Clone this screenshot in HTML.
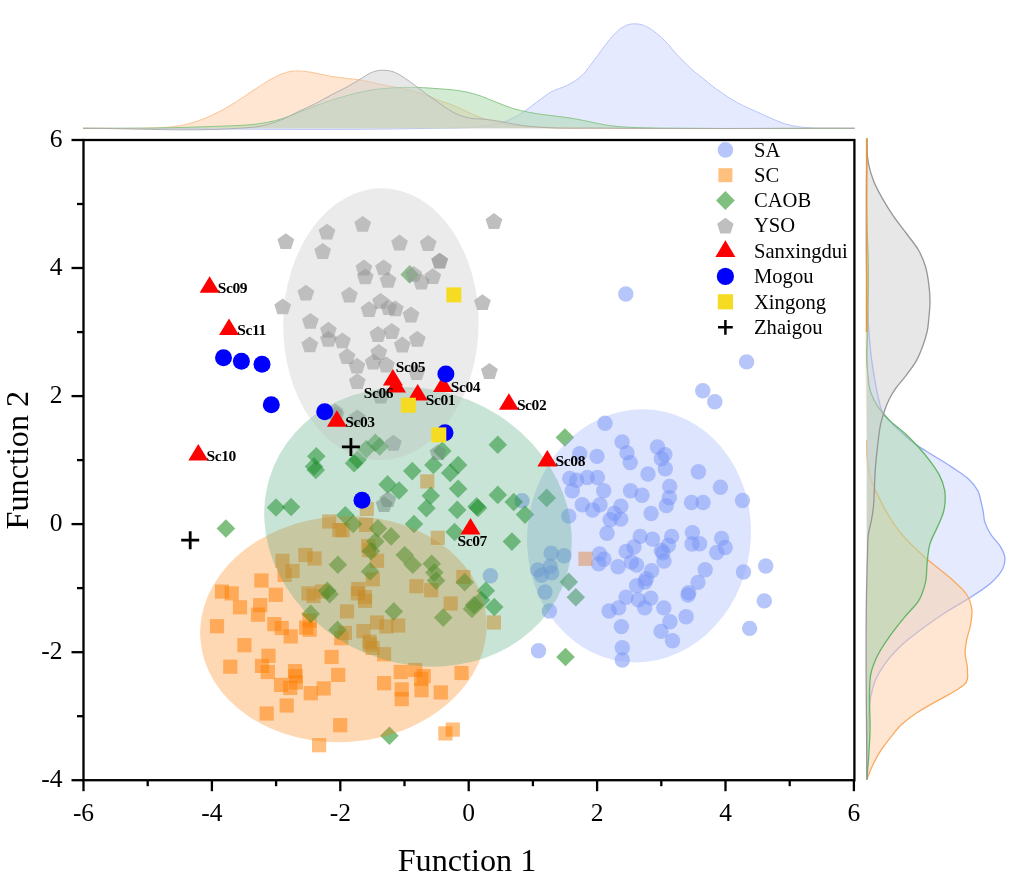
<!DOCTYPE html><html><head><meta charset="utf-8"><style>html,body{margin:0;padding:0;background:#fff;}svg{display:block;will-change:transform;}</style></head><body><svg width="1021" height="881" viewBox="0 0 1021 881">
<rect width="1021" height="881" fill="#fff"/>
<path d="M83.0,128.3 C202.0,128.3 321.0,130.8 440.0,128.2 C450.0,128.0 460.0,128.2 470.0,127.5 C475.0,127.1 480.0,126.7 485.0,126.0 C489.0,125.4 493.0,124.8 497.0,123.8 C499.6,123.2 502.3,122.6 504.9,121.6 C507.5,120.7 510.1,119.4 512.7,118.1 C516.4,116.3 520.0,114.3 523.7,111.9 C527.9,109.2 532.0,105.5 536.2,102.5 C541.4,98.7 546.7,94.4 551.9,91.5 C557.1,88.6 562.3,88.1 567.5,85.2 C572.7,82.3 578.0,79.8 583.2,74.3 C586.9,70.5 590.5,64.9 594.2,60.1 C595.4,58.5 596.6,57.0 597.8,55.4 C600.4,51.9 603.1,47.9 605.7,44.5 C608.3,41.1 610.9,37.9 613.5,35.1 C616.1,32.4 618.7,29.8 621.3,28.0 C623.9,26.2 626.6,25.1 629.2,24.4 C631.3,23.9 633.3,23.8 635.4,23.8 C638.0,23.9 640.7,24.3 643.3,25.2 C646.4,26.3 649.6,28.3 652.7,30.4 C655.3,32.2 657.9,34.3 660.5,36.6 C663.1,39.0 665.8,41.6 668.4,44.5 C671.0,47.4 673.6,51.0 676.2,53.9 C678.8,56.8 681.4,59.1 684.0,61.7 C686.6,64.3 689.3,67.2 691.9,69.6 C694.5,71.9 697.1,73.7 699.7,75.8 C702.3,77.9 704.9,80.0 707.5,82.1 C710.1,84.2 712.8,86.4 715.4,88.4 C718.0,90.3 720.6,92.0 723.2,93.8 C725.8,95.6 728.4,97.4 731.0,99.0 C735.2,101.6 739.5,103.8 743.7,105.9 C748.3,108.2 752.8,110.0 757.4,112.1 C762.0,114.2 766.5,116.3 771.1,118.3 C775.7,120.2 780.2,122.4 784.8,123.8 C789.4,125.2 794.0,126.1 798.6,126.8 C803.2,127.5 807.7,127.7 812.3,127.9 C818.2,128.2 824.1,128.1 830.0,128.2 C838.2,128.3 846.3,128.3 854.5,128.3 L854.5,128.3 L83,128.3 Z" fill="rgba(203,213,253,0.5)" stroke="none"/>
<path d="M83.0,128.3 C202.0,128.3 321.0,130.8 440.0,128.2 C450.0,128.0 460.0,128.2 470.0,127.5 C475.0,127.1 480.0,126.7 485.0,126.0 C489.0,125.4 493.0,124.8 497.0,123.8 C499.6,123.2 502.3,122.6 504.9,121.6 C507.5,120.7 510.1,119.4 512.7,118.1 C516.4,116.3 520.0,114.3 523.7,111.9 C527.9,109.2 532.0,105.5 536.2,102.5 C541.4,98.7 546.7,94.4 551.9,91.5 C557.1,88.6 562.3,88.1 567.5,85.2 C572.7,82.3 578.0,79.8 583.2,74.3 C586.9,70.5 590.5,64.9 594.2,60.1 C595.4,58.5 596.6,57.0 597.8,55.4 C600.4,51.9 603.1,47.9 605.7,44.5 C608.3,41.1 610.9,37.9 613.5,35.1 C616.1,32.4 618.7,29.8 621.3,28.0 C623.9,26.2 626.6,25.1 629.2,24.4 C631.3,23.9 633.3,23.8 635.4,23.8 C638.0,23.9 640.7,24.3 643.3,25.2 C646.4,26.3 649.6,28.3 652.7,30.4 C655.3,32.2 657.9,34.3 660.5,36.6 C663.1,39.0 665.8,41.6 668.4,44.5 C671.0,47.4 673.6,51.0 676.2,53.9 C678.8,56.8 681.4,59.1 684.0,61.7 C686.6,64.3 689.3,67.2 691.9,69.6 C694.5,71.9 697.1,73.7 699.7,75.8 C702.3,77.9 704.9,80.0 707.5,82.1 C710.1,84.2 712.8,86.4 715.4,88.4 C718.0,90.3 720.6,92.0 723.2,93.8 C725.8,95.6 728.4,97.4 731.0,99.0 C735.2,101.6 739.5,103.8 743.7,105.9 C748.3,108.2 752.8,110.0 757.4,112.1 C762.0,114.2 766.5,116.3 771.1,118.3 C775.7,120.2 780.2,122.4 784.8,123.8 C789.4,125.2 794.0,126.1 798.6,126.8 C803.2,127.5 807.7,127.7 812.3,127.9 C818.2,128.2 824.1,128.1 830.0,128.2 C838.2,128.3 846.3,128.3 854.5,128.3" fill="none" stroke="rgb(178,192,249)" stroke-width="0.9"/>
<path d="M83.0,128.3 C105.3,128.2 127.7,128.9 150.0,128.1 C155.2,127.9 160.5,127.9 165.7,127.4 C170.9,127.0 176.1,126.4 181.3,125.4 C186.5,124.4 191.8,123.0 197.0,121.2 C202.2,119.5 207.5,117.3 212.7,114.9 C217.9,112.5 223.2,109.6 228.4,106.6 C233.6,103.6 238.8,100.1 244.0,96.7 C249.2,93.3 254.5,89.5 259.7,86.2 C264.9,82.9 270.2,79.3 275.4,76.8 C279.0,75.0 282.7,73.4 286.3,72.4 C290.0,71.4 293.6,71.0 297.3,70.9 C301.5,70.8 305.8,71.5 310.0,72.1 C317.1,73.1 324.2,75.3 331.3,76.4 C336.5,77.2 341.8,77.7 347.0,78.4 C352.2,79.1 357.5,79.5 362.7,80.4 C367.9,81.3 373.2,82.8 378.4,83.9 C383.6,85.0 388.8,86.0 394.0,87.0 C399.2,88.0 404.5,88.8 409.7,90.1 C414.9,91.4 420.2,93.1 425.4,94.9 C430.6,96.7 435.8,99.2 441.0,101.1 C444.7,102.4 448.3,103.4 452.0,104.8 C456.6,106.6 461.1,109.1 465.7,111.1 C470.9,113.4 476.1,115.9 481.3,117.8 C486.5,119.7 491.8,121.3 497.0,122.5 C502.2,123.7 507.5,124.5 512.7,125.2 C517.9,125.9 523.2,126.4 528.4,126.8 C533.9,127.2 539.5,127.4 545.0,127.6 C563.3,128.3 581.7,128.0 600.0,128.2 C684.8,129.0 769.7,128.3 854.5,128.3 L854.5,128.3 L83,128.3 Z" fill="rgba(253,205,165,0.5)" stroke="none"/>
<path d="M83.0,128.3 C105.3,128.2 127.7,128.9 150.0,128.1 C155.2,127.9 160.5,127.9 165.7,127.4 C170.9,127.0 176.1,126.4 181.3,125.4 C186.5,124.4 191.8,123.0 197.0,121.2 C202.2,119.5 207.5,117.3 212.7,114.9 C217.9,112.5 223.2,109.6 228.4,106.6 C233.6,103.6 238.8,100.1 244.0,96.7 C249.2,93.3 254.5,89.5 259.7,86.2 C264.9,82.9 270.2,79.3 275.4,76.8 C279.0,75.0 282.7,73.4 286.3,72.4 C290.0,71.4 293.6,71.0 297.3,70.9 C301.5,70.8 305.8,71.5 310.0,72.1 C317.1,73.1 324.2,75.3 331.3,76.4 C336.5,77.2 341.8,77.7 347.0,78.4 C352.2,79.1 357.5,79.5 362.7,80.4 C367.9,81.3 373.2,82.8 378.4,83.9 C383.6,85.0 388.8,86.0 394.0,87.0 C399.2,88.0 404.5,88.8 409.7,90.1 C414.9,91.4 420.2,93.1 425.4,94.9 C430.6,96.7 435.8,99.2 441.0,101.1 C444.7,102.4 448.3,103.4 452.0,104.8 C456.6,106.6 461.1,109.1 465.7,111.1 C470.9,113.4 476.1,115.9 481.3,117.8 C486.5,119.7 491.8,121.3 497.0,122.5 C502.2,123.7 507.5,124.5 512.7,125.2 C517.9,125.9 523.2,126.4 528.4,126.8 C533.9,127.2 539.5,127.4 545.0,127.6 C563.3,128.3 581.7,128.0 600.0,128.2 C684.8,129.0 769.7,128.3 854.5,128.3" fill="none" stroke="rgb(250,190,135)" stroke-width="0.9"/>
<path d="M83.0,128.3 C105.3,128.2 127.7,128.4 150.0,128.1 C165.7,127.9 181.3,127.5 197.0,127.0 C207.5,126.7 217.9,126.4 228.4,125.9 C236.2,125.5 244.1,125.5 251.9,124.6 C257.1,124.0 262.3,123.3 267.5,122.3 C272.7,121.3 278.0,120.1 283.2,118.4 C288.4,116.8 293.7,114.4 298.9,112.4 C304.5,110.2 310.1,107.9 315.7,105.8 C320.9,103.9 326.1,102.0 331.3,100.3 C336.5,98.6 341.8,97.0 347.0,95.6 C352.2,94.2 357.5,92.8 362.7,91.7 C367.9,90.6 373.2,89.8 378.4,89.1 C383.6,88.5 388.8,88.1 394.0,87.8 C399.2,87.5 404.5,87.3 409.7,87.3 C414.9,87.3 420.2,87.5 425.4,87.8 C430.6,88.1 435.8,88.5 441.0,88.9 C444.0,89.1 447.0,89.3 450.0,89.6 C455.2,90.1 460.5,90.7 465.7,91.8 C470.9,92.9 476.1,94.4 481.3,96.2 C486.5,98.0 491.8,100.5 497.0,102.5 C502.2,104.5 507.5,106.8 512.7,108.4 C517.9,110.0 523.2,111.1 528.4,112.2 C533.6,113.2 538.8,114.0 544.0,114.7 C549.2,115.4 554.5,115.9 559.7,116.6 C564.9,117.3 570.2,118.0 575.4,118.9 C580.6,119.8 585.8,121.0 591.0,122.0 C596.2,123.1 601.5,124.4 606.7,125.2 C611.6,126.0 616.4,126.4 621.3,126.8 C627.5,127.3 633.8,127.5 640.0,127.7 C653.3,128.2 666.7,128.1 680.0,128.2 C738.2,128.8 796.3,128.3 854.5,128.3 L854.5,128.3 L83,128.3 Z" fill="rgba(167,213,167,0.5)" stroke="none"/>
<path d="M83.0,128.3 C105.3,128.2 127.7,128.4 150.0,128.1 C165.7,127.9 181.3,127.5 197.0,127.0 C207.5,126.7 217.9,126.4 228.4,125.9 C236.2,125.5 244.1,125.5 251.9,124.6 C257.1,124.0 262.3,123.3 267.5,122.3 C272.7,121.3 278.0,120.1 283.2,118.4 C288.4,116.8 293.7,114.4 298.9,112.4 C304.5,110.2 310.1,107.9 315.7,105.8 C320.9,103.9 326.1,102.0 331.3,100.3 C336.5,98.6 341.8,97.0 347.0,95.6 C352.2,94.2 357.5,92.8 362.7,91.7 C367.9,90.6 373.2,89.8 378.4,89.1 C383.6,88.5 388.8,88.1 394.0,87.8 C399.2,87.5 404.5,87.3 409.7,87.3 C414.9,87.3 420.2,87.5 425.4,87.8 C430.6,88.1 435.8,88.5 441.0,88.9 C444.0,89.1 447.0,89.3 450.0,89.6 C455.2,90.1 460.5,90.7 465.7,91.8 C470.9,92.9 476.1,94.4 481.3,96.2 C486.5,98.0 491.8,100.5 497.0,102.5 C502.2,104.5 507.5,106.8 512.7,108.4 C517.9,110.0 523.2,111.1 528.4,112.2 C533.6,113.2 538.8,114.0 544.0,114.7 C549.2,115.4 554.5,115.9 559.7,116.6 C564.9,117.3 570.2,118.0 575.4,118.9 C580.6,119.8 585.8,121.0 591.0,122.0 C596.2,123.1 601.5,124.4 606.7,125.2 C611.6,126.0 616.4,126.4 621.3,126.8 C627.5,127.3 633.8,127.5 640.0,127.7 C653.3,128.2 666.7,128.1 680.0,128.2 C738.2,128.8 796.3,128.3 854.5,128.3" fill="none" stroke="rgb(130,195,130)" stroke-width="0.9"/>
<path d="M83.0,128.3 C135.3,128.3 187.7,131.9 240.0,128.2 C244.0,127.9 247.9,127.8 251.9,127.3 C257.1,126.7 262.3,126.0 267.5,124.6 C272.7,123.2 278.0,121.3 283.2,119.1 C288.4,116.9 293.7,113.8 298.9,111.3 C304.5,108.6 310.1,106.4 315.7,103.5 C320.9,100.9 326.1,97.6 331.3,94.9 C336.5,92.1 341.8,89.9 347.0,87.0 C352.2,84.1 357.5,80.7 362.7,77.6 C365.3,76.0 367.9,74.1 370.5,72.9 C374.7,71.0 378.9,70.2 383.1,70.2 C386.7,70.2 390.4,70.8 394.0,72.1 C399.2,73.9 404.5,78.0 409.7,81.5 C414.9,85.0 420.2,89.5 425.4,93.3 C430.6,97.1 435.8,100.7 441.0,104.3 C444.0,106.4 447.0,108.7 450.0,110.5 C452.7,112.1 455.3,113.5 458.0,114.6 C460.7,115.7 463.3,116.6 466.0,117.3 C468.3,117.9 470.7,118.3 473.0,118.6 C476.5,119.1 480.0,118.8 483.5,119.1 C489.7,119.6 495.8,120.8 502.0,121.8 C508.9,122.9 515.7,124.7 522.6,125.6 C529.4,126.5 536.2,126.9 543.0,127.4 C562.0,128.7 581.0,127.9 600.0,128.1 C684.8,129.0 769.7,128.2 854.5,128.3 L854.5,128.3 L83,128.3 Z" fill="rgba(207,207,207,0.5)" stroke="none"/>
<path d="M83.0,128.3 C135.3,128.3 187.7,131.9 240.0,128.2 C244.0,127.9 247.9,127.8 251.9,127.3 C257.1,126.7 262.3,126.0 267.5,124.6 C272.7,123.2 278.0,121.3 283.2,119.1 C288.4,116.9 293.7,113.8 298.9,111.3 C304.5,108.6 310.1,106.4 315.7,103.5 C320.9,100.9 326.1,97.6 331.3,94.9 C336.5,92.1 341.8,89.9 347.0,87.0 C352.2,84.1 357.5,80.7 362.7,77.6 C365.3,76.0 367.9,74.1 370.5,72.9 C374.7,71.0 378.9,70.2 383.1,70.2 C386.7,70.2 390.4,70.8 394.0,72.1 C399.2,73.9 404.5,78.0 409.7,81.5 C414.9,85.0 420.2,89.5 425.4,93.3 C430.6,97.1 435.8,100.7 441.0,104.3 C444.0,106.4 447.0,108.7 450.0,110.5 C452.7,112.1 455.3,113.5 458.0,114.6 C460.7,115.7 463.3,116.6 466.0,117.3 C468.3,117.9 470.7,118.3 473.0,118.6 C476.5,119.1 480.0,118.8 483.5,119.1 C489.7,119.6 495.8,120.8 502.0,121.8 C508.9,122.9 515.7,124.7 522.6,125.6 C529.4,126.5 536.2,126.9 543.0,127.4 C562.0,128.7 581.0,127.9 600.0,128.1 C684.8,129.0 769.7,128.2 854.5,128.3" fill="none" stroke="rgb(172,172,172)" stroke-width="0.9"/>
<path d="M866.8,138.6 C866.8,185.7 865.5,232.9 866.8,280.0 C867.0,288.3 867.3,296.7 867.6,305.0 C867.9,312.3 868.1,319.5 868.6,326.8 C869.2,335.9 869.8,345.0 870.9,354.1 C871.8,361.7 873.0,369.2 874.3,376.8 C875.3,382.8 876.2,388.9 877.7,394.9 C879.4,401.7 879.7,408.6 884.5,415.4 C888.3,420.7 894.6,426.0 900.4,431.3 C905.3,435.8 909.9,440.4 916.3,444.9 C921.6,448.7 928.5,452.4 934.5,456.2 C940.6,460.0 946.9,463.8 952.6,467.6 C958.3,471.4 964.3,475.2 968.5,479.0 C972.6,482.8 975.5,486.5 977.6,490.3 C979.7,494.1 980.0,497.9 981.0,501.7 C981.9,505.1 982.7,508.6 983.3,512.0 C983.9,515.1 983.7,518.3 984.6,521.4 C985.9,525.9 988.2,530.5 991.2,535.0 C993.7,538.8 998.0,542.5 1000.3,546.3 C1002.6,550.1 1004.5,553.9 1004.9,557.7 C1005.3,561.5 1004.4,565.2 1002.6,569.0 C1000.4,573.6 996.3,578.1 991.2,582.7 C985.3,588.0 976.8,593.3 968.5,598.6 C961.4,603.1 952.9,607.7 945.8,612.2 C937.5,617.5 930.2,622.8 923.1,628.1 C915.0,634.1 906.8,640.2 900.4,646.2 C893.9,652.3 888.8,658.3 884.5,664.4 C880.7,669.7 877.7,675.0 875.4,680.3 C873.1,685.6 872.0,690.9 870.9,696.2 C870.0,700.8 869.6,705.4 869.1,710.0 C868.0,720.0 867.9,730.0 867.5,740.0 C867.0,753.2 867.0,766.4 866.8,779.6 L866.8,779.6 L866.8,138.6 Z" fill="rgba(203,213,253,0.5)" stroke="none"/>
<path d="M866.8,138.6 C866.8,185.7 865.5,232.9 866.8,280.0 C867.0,288.3 867.3,296.7 867.6,305.0 C867.9,312.3 868.1,319.5 868.6,326.8 C869.2,335.9 869.8,345.0 870.9,354.1 C871.8,361.7 873.0,369.2 874.3,376.8 C875.3,382.8 876.2,388.9 877.7,394.9 C879.4,401.7 879.7,408.6 884.5,415.4 C888.3,420.7 894.6,426.0 900.4,431.3 C905.3,435.8 909.9,440.4 916.3,444.9 C921.6,448.7 928.5,452.4 934.5,456.2 C940.6,460.0 946.9,463.8 952.6,467.6 C958.3,471.4 964.3,475.2 968.5,479.0 C972.6,482.8 975.5,486.5 977.6,490.3 C979.7,494.1 980.0,497.9 981.0,501.7 C981.9,505.1 982.7,508.6 983.3,512.0 C983.9,515.1 983.7,518.3 984.6,521.4 C985.9,525.9 988.2,530.5 991.2,535.0 C993.7,538.8 998.0,542.5 1000.3,546.3 C1002.6,550.1 1004.5,553.9 1004.9,557.7 C1005.3,561.5 1004.4,565.2 1002.6,569.0 C1000.4,573.6 996.3,578.1 991.2,582.7 C985.3,588.0 976.8,593.3 968.5,598.6 C961.4,603.1 952.9,607.7 945.8,612.2 C937.5,617.5 930.2,622.8 923.1,628.1 C915.0,634.1 906.8,640.2 900.4,646.2 C893.9,652.3 888.8,658.3 884.5,664.4 C880.7,669.7 877.7,675.0 875.4,680.3 C873.1,685.6 872.0,690.9 870.9,696.2 C870.0,700.8 869.6,705.4 869.1,710.0 C868.0,720.0 867.9,730.0 867.5,740.0 C867.0,753.2 867.0,766.4 866.8,779.6" fill="none" stroke="rgb(150,170,250)" stroke-width="1.3"/>
<path d="M866.8,138.6 C866.8,239.1 863.6,339.5 866.8,440.0 C867.0,446.9 866.7,453.9 867.5,460.8 C868.2,466.9 869.0,472.9 870.9,479.0 C872.6,484.3 875.2,489.5 877.7,494.8 C879.8,499.4 882.0,503.9 884.5,508.5 C886.6,512.3 888.8,516.2 891.3,520.0 C894.1,524.2 897.0,528.5 900.4,532.7 C907.2,541.0 916.0,549.4 925.4,557.7 C933.0,564.5 942.9,571.3 950.4,578.1 C956.2,583.4 962.7,588.7 966.3,594.0 C969.9,599.3 971.3,604.6 971.9,609.9 C972.4,614.4 971.5,619.0 970.8,623.5 C969.9,629.6 967.3,635.6 966.3,641.7 C965.7,645.5 965.1,649.3 965.1,653.1 C965.1,658.7 967.8,664.4 967.5,670.0 C967.2,674.9 969.4,679.9 964.0,684.8 C961.9,686.7 958.8,688.6 955.8,690.5 C950.1,694.1 942.7,697.8 936.3,701.4 C929.6,705.2 922.5,709.0 916.8,712.8 C911.1,716.6 906.2,720.3 902.1,724.1 C897.3,728.4 894.3,732.8 890.8,737.1 C887.3,741.5 883.9,745.8 881.0,750.2 C877.8,755.1 875.3,759.9 872.9,764.8 C870.5,769.7 868.8,774.7 866.8,779.6 L866.8,779.6 L866.8,138.6 Z" fill="rgba(253,205,165,0.5)" stroke="none"/>
<path d="M866.8,440.0 C867.0,446.9 866.7,453.9 867.5,460.8 C868.2,466.9 869.0,472.9 870.9,479.0 C872.6,484.3 875.2,489.5 877.7,494.8 C879.8,499.4 882.0,503.9 884.5,508.5 C886.6,512.3 888.8,516.2 891.3,520.0 C894.1,524.2 897.0,528.5 900.4,532.7 C907.2,541.0 916.0,549.4 925.4,557.7 C933.0,564.5 942.9,571.3 950.4,578.1 C956.2,583.4 962.7,588.7 966.3,594.0 C969.9,599.3 971.3,604.6 971.9,609.9 C972.4,614.4 971.5,619.0 970.8,623.5 C969.9,629.6 967.3,635.6 966.3,641.7 C965.7,645.5 965.1,649.3 965.1,653.1 C965.1,658.7 967.8,664.4 967.5,670.0 C967.2,674.9 969.4,679.9 964.0,684.8 C961.9,686.7 958.8,688.6 955.8,690.5 C950.1,694.1 942.7,697.8 936.3,701.4 C929.6,705.2 922.5,709.0 916.8,712.8 C911.1,716.6 906.2,720.3 902.1,724.1 C897.3,728.4 894.3,732.8 890.8,737.1 C887.3,741.5 883.9,745.8 881.0,750.2 C877.8,755.1 875.3,759.9 872.9,764.8 C870.5,769.7 868.8,774.7 866.8,779.6" fill="none" stroke="rgb(250,170,95)" stroke-width="1.3"/>
<path d="M866.8,138.6 C866.8,165.7 866.2,192.9 866.8,220.0 C867.1,235.0 868.1,250.0 868.3,265.0 C868.4,273.3 868.4,281.7 868.3,290.0 C868.2,303.3 867.6,316.7 867.5,330.0 C867.4,343.3 866.2,356.7 867.5,370.0 C868.2,377.6 868.1,385.1 870.9,392.7 C872.6,397.2 874.7,401.8 877.7,406.3 C880.7,410.8 884.6,415.4 889.1,419.9 C893.6,424.4 900.1,429.0 905.0,433.5 C909.9,438.1 914.4,442.6 918.6,447.2 C922.7,451.7 926.5,456.3 929.9,460.8 C933.3,465.3 936.6,469.9 939.0,474.4 C941.8,479.7 943.8,485.0 944.7,490.3 C945.3,494.1 945.3,497.9 945.1,501.7 C944.9,505.1 944.4,508.6 943.5,512.0 C942.5,515.9 940.6,519.7 939.0,523.6 C936.2,530.4 931.9,537.3 929.9,544.1 C928.2,550.1 927.9,556.2 927.2,562.2 C926.4,569.0 927.0,575.9 925.4,582.7 C923.9,588.7 922.4,594.8 918.6,600.8 C915.3,606.1 909.3,611.4 905.0,616.7 C899.4,623.5 893.9,630.4 889.1,637.2 C884.9,643.2 880.7,649.3 877.7,655.3 C874.7,661.4 872.2,667.4 870.9,673.5 C869.7,679.0 869.9,684.5 869.6,690.0 C868.9,703.5 870.4,717.1 870.0,730.6 C869.8,738.7 869.3,746.9 868.8,755.0 C868.3,763.2 867.5,771.4 866.8,779.6 L866.8,779.6 L866.8,138.6 Z" fill="rgba(167,213,167,0.5)" stroke="none"/>
<path d="M866.8,138.6 C866.8,165.7 866.2,192.9 866.8,220.0 C867.1,235.0 868.1,250.0 868.3,265.0 C868.4,273.3 868.4,281.7 868.3,290.0 C868.2,303.3 867.6,316.7 867.5,330.0 C867.4,343.3 866.2,356.7 867.5,370.0 C868.2,377.6 868.1,385.1 870.9,392.7 C872.6,397.2 874.7,401.8 877.7,406.3 C880.7,410.8 884.6,415.4 889.1,419.9 C893.6,424.4 900.1,429.0 905.0,433.5 C909.9,438.1 914.4,442.6 918.6,447.2 C922.7,451.7 926.5,456.3 929.9,460.8 C933.3,465.3 936.6,469.9 939.0,474.4 C941.8,479.7 943.8,485.0 944.7,490.3 C945.3,494.1 945.3,497.9 945.1,501.7 C944.9,505.1 944.4,508.6 943.5,512.0 C942.5,515.9 940.6,519.7 939.0,523.6 C936.2,530.4 931.9,537.3 929.9,544.1 C928.2,550.1 927.9,556.2 927.2,562.2 C926.4,569.0 927.0,575.9 925.4,582.7 C923.9,588.7 922.4,594.8 918.6,600.8 C915.3,606.1 909.3,611.4 905.0,616.7 C899.4,623.5 893.9,630.4 889.1,637.2 C884.9,643.2 880.7,649.3 877.7,655.3 C874.7,661.4 872.2,667.4 870.9,673.5 C869.7,679.0 869.9,684.5 869.6,690.0 C868.9,703.5 870.4,717.1 870.0,730.6 C869.8,738.7 869.3,746.9 868.8,755.0 C868.3,763.2 867.5,771.4 866.8,779.6" fill="none" stroke="rgb(100,180,100)" stroke-width="1.3"/>
<path d="M866.8,138.6 C866.8,141.7 866.7,144.9 866.8,148.0 C867.0,153.4 867.5,158.7 868.6,164.1 C869.7,169.4 871.2,174.7 873.2,180.0 C875.5,186.0 878.8,192.1 882.2,198.1 C885.6,204.2 889.4,210.2 893.6,216.3 C897.8,222.4 902.8,228.4 907.2,234.5 C911.1,239.8 915.6,245.0 918.6,250.3 C921.6,255.6 923.7,260.9 925.4,266.2 C927.3,272.3 928.0,278.3 928.8,284.4 C929.6,290.5 930.1,296.5 930.0,302.6 C929.9,307.9 929.3,313.2 928.8,318.5 C928.4,322.8 928.1,327.1 927.2,331.4 C926.2,335.9 924.7,340.5 923.1,345.0 C921.2,350.3 919.3,355.6 916.3,360.9 C913.3,366.2 909.1,371.5 905.0,376.8 C902.1,380.6 898.5,384.3 895.9,388.1 C893.2,391.9 891.0,395.7 889.1,399.5 C887.2,403.3 885.8,407.0 884.5,410.8 C883.2,414.6 882.0,418.4 881.1,422.2 C879.2,429.8 878.7,437.3 877.7,444.9 C876.8,452.5 876.0,460.0 875.4,467.6 C874.8,475.2 874.7,482.7 874.3,490.3 C874.0,495.5 874.0,500.8 873.5,506.0 C873.0,510.7 872.4,515.3 871.5,520.0 C870.7,524.3 869.3,528.7 868.6,533.0 C867.4,540.3 867.8,547.7 867.5,555.0 C867.2,563.3 867.0,571.7 866.8,580.0 C865.1,646.5 866.8,713.1 866.8,779.6 L866.8,779.6 L866.8,138.6 Z" fill="rgba(207,207,207,0.5)" stroke="none"/>
<path d="M866.8,138.6 C866.8,141.7 866.7,144.9 866.8,148.0 C867.0,153.4 867.5,158.7 868.6,164.1 C869.7,169.4 871.2,174.7 873.2,180.0 C875.5,186.0 878.8,192.1 882.2,198.1 C885.6,204.2 889.4,210.2 893.6,216.3 C897.8,222.4 902.8,228.4 907.2,234.5 C911.1,239.8 915.6,245.0 918.6,250.3 C921.6,255.6 923.7,260.9 925.4,266.2 C927.3,272.3 928.0,278.3 928.8,284.4 C929.6,290.5 930.1,296.5 930.0,302.6 C929.9,307.9 929.3,313.2 928.8,318.5 C928.4,322.8 928.1,327.1 927.2,331.4 C926.2,335.9 924.7,340.5 923.1,345.0 C921.2,350.3 919.3,355.6 916.3,360.9 C913.3,366.2 909.1,371.5 905.0,376.8 C902.1,380.6 898.5,384.3 895.9,388.1 C893.2,391.9 891.0,395.7 889.1,399.5 C887.2,403.3 885.8,407.0 884.5,410.8 C883.2,414.6 882.0,418.4 881.1,422.2 C879.2,429.8 878.7,437.3 877.7,444.9 C876.8,452.5 876.0,460.0 875.4,467.6 C874.8,475.2 874.7,482.7 874.3,490.3 C874.0,495.5 874.0,500.8 873.5,506.0 C873.0,510.7 872.4,515.3 871.5,520.0 C870.7,524.3 869.3,528.7 868.6,533.0 C867.4,540.3 867.8,547.7 867.5,555.0 C867.2,563.3 867.0,571.7 866.8,580.0 C865.1,646.5 866.8,713.1 866.8,779.6" fill="none" stroke="rgb(150,150,150)" stroke-width="1.3"/>
<line x1="866.5999999999999" y1="138.4" x2="866.5999999999999" y2="332" stroke="rgb(238,150,50)" stroke-width="1.5"/>
<circle cx="490.4" cy="575.8" r="7.7" fill="rgba(112,142,245,0.5)"/>
<circle cx="702.8" cy="390.8" r="7.7" fill="rgba(112,142,245,0.5)"/>
<circle cx="714.8" cy="401.7" r="7.7" fill="rgba(112,142,245,0.5)"/>
<circle cx="605.0" cy="423.2" r="7.7" fill="rgba(112,142,245,0.5)"/>
<circle cx="622.1" cy="441.9" r="7.7" fill="rgba(112,142,245,0.5)"/>
<circle cx="627.0" cy="452.9" r="7.7" fill="rgba(112,142,245,0.5)"/>
<circle cx="630.2" cy="462.6" r="7.7" fill="rgba(112,142,245,0.5)"/>
<circle cx="657.5" cy="447.0" r="7.7" fill="rgba(112,142,245,0.5)"/>
<circle cx="664.9" cy="454.6" r="7.7" fill="rgba(112,142,245,0.5)"/>
<circle cx="661.4" cy="458.7" r="7.7" fill="rgba(112,142,245,0.5)"/>
<circle cx="665.3" cy="468.7" r="7.7" fill="rgba(112,142,245,0.5)"/>
<circle cx="579.7" cy="453.7" r="7.7" fill="rgba(112,142,245,0.5)"/>
<circle cx="597.0" cy="456.4" r="7.7" fill="rgba(112,142,245,0.5)"/>
<circle cx="648.0" cy="474.0" r="7.7" fill="rgba(112,142,245,0.5)"/>
<circle cx="698.4" cy="471.7" r="7.7" fill="rgba(112,142,245,0.5)"/>
<circle cx="569.7" cy="478.4" r="7.7" fill="rgba(112,142,245,0.5)"/>
<circle cx="576.7" cy="480.2" r="7.7" fill="rgba(112,142,245,0.5)"/>
<circle cx="587.3" cy="477.5" r="7.7" fill="rgba(112,142,245,0.5)"/>
<circle cx="597.4" cy="477.5" r="7.7" fill="rgba(112,142,245,0.5)"/>
<circle cx="572.3" cy="490.8" r="7.7" fill="rgba(112,142,245,0.5)"/>
<circle cx="603.7" cy="490.8" r="7.7" fill="rgba(112,142,245,0.5)"/>
<circle cx="630.5" cy="490.8" r="7.7" fill="rgba(112,142,245,0.5)"/>
<circle cx="642.0" cy="495.2" r="7.7" fill="rgba(112,142,245,0.5)"/>
<circle cx="669.7" cy="486.4" r="7.7" fill="rgba(112,142,245,0.5)"/>
<circle cx="669.3" cy="497.8" r="7.7" fill="rgba(112,142,245,0.5)"/>
<circle cx="720.4" cy="487.2" r="7.7" fill="rgba(112,142,245,0.5)"/>
<circle cx="691.5" cy="502.5" r="7.7" fill="rgba(112,142,245,0.5)"/>
<circle cx="703.1" cy="502.5" r="7.7" fill="rgba(112,142,245,0.5)"/>
<circle cx="742.5" cy="500.5" r="7.7" fill="rgba(112,142,245,0.5)"/>
<circle cx="666.3" cy="505.6" r="7.7" fill="rgba(112,142,245,0.5)"/>
<circle cx="522.0" cy="500.8" r="7.7" fill="rgba(112,142,245,0.5)"/>
<circle cx="568.8" cy="516.1" r="7.7" fill="rgba(112,142,245,0.5)"/>
<circle cx="582.3" cy="504.7" r="7.7" fill="rgba(112,142,245,0.5)"/>
<circle cx="592.6" cy="510.0" r="7.7" fill="rgba(112,142,245,0.5)"/>
<circle cx="600.0" cy="504.7" r="7.7" fill="rgba(112,142,245,0.5)"/>
<circle cx="620.8" cy="506.1" r="7.7" fill="rgba(112,142,245,0.5)"/>
<circle cx="614.3" cy="513.5" r="7.7" fill="rgba(112,142,245,0.5)"/>
<circle cx="610.2" cy="519.7" r="7.7" fill="rgba(112,142,245,0.5)"/>
<circle cx="620.8" cy="519.1" r="7.7" fill="rgba(112,142,245,0.5)"/>
<circle cx="651.1" cy="513.5" r="7.7" fill="rgba(112,142,245,0.5)"/>
<circle cx="607.0" cy="533.2" r="7.7" fill="rgba(112,142,245,0.5)"/>
<circle cx="640.2" cy="536.4" r="7.7" fill="rgba(112,142,245,0.5)"/>
<circle cx="652.5" cy="539.1" r="7.7" fill="rgba(112,142,245,0.5)"/>
<circle cx="671.6" cy="536.4" r="7.7" fill="rgba(112,142,245,0.5)"/>
<circle cx="668.4" cy="545.2" r="7.7" fill="rgba(112,142,245,0.5)"/>
<circle cx="634.0" cy="547.0" r="7.7" fill="rgba(112,142,245,0.5)"/>
<circle cx="626.1" cy="551.4" r="7.7" fill="rgba(112,142,245,0.5)"/>
<circle cx="661.3" cy="550.5" r="7.7" fill="rgba(112,142,245,0.5)"/>
<circle cx="664.0" cy="561.1" r="7.7" fill="rgba(112,142,245,0.5)"/>
<circle cx="692.4" cy="532.6" r="7.7" fill="rgba(112,142,245,0.5)"/>
<circle cx="692.0" cy="544.0" r="7.7" fill="rgba(112,142,245,0.5)"/>
<circle cx="599.6" cy="554.0" r="7.7" fill="rgba(112,142,245,0.5)"/>
<circle cx="604.0" cy="559.3" r="7.7" fill="rgba(112,142,245,0.5)"/>
<circle cx="598.7" cy="563.7" r="7.7" fill="rgba(112,142,245,0.5)"/>
<circle cx="618.1" cy="566.7" r="7.7" fill="rgba(112,142,245,0.5)"/>
<circle cx="631.4" cy="562.0" r="7.7" fill="rgba(112,142,245,0.5)"/>
<circle cx="636.6" cy="565.0" r="7.7" fill="rgba(112,142,245,0.5)"/>
<circle cx="651.6" cy="570.8" r="7.7" fill="rgba(112,142,245,0.5)"/>
<circle cx="646.3" cy="578.7" r="7.7" fill="rgba(112,142,245,0.5)"/>
<circle cx="636.6" cy="585.8" r="7.7" fill="rgba(112,142,245,0.5)"/>
<circle cx="626.1" cy="597.2" r="7.7" fill="rgba(112,142,245,0.5)"/>
<circle cx="638.4" cy="599.9" r="7.7" fill="rgba(112,142,245,0.5)"/>
<circle cx="650.8" cy="598.1" r="7.7" fill="rgba(112,142,245,0.5)"/>
<circle cx="618.6" cy="607.9" r="7.7" fill="rgba(112,142,245,0.5)"/>
<circle cx="609.1" cy="611.0" r="7.7" fill="rgba(112,142,245,0.5)"/>
<circle cx="644.7" cy="607.9" r="7.7" fill="rgba(112,142,245,0.5)"/>
<circle cx="663.8" cy="607.9" r="7.7" fill="rgba(112,142,245,0.5)"/>
<circle cx="688.7" cy="592.8" r="7.7" fill="rgba(112,142,245,0.5)"/>
<circle cx="698.0" cy="582.4" r="7.7" fill="rgba(112,142,245,0.5)"/>
<circle cx="551.1" cy="553.2" r="7.7" fill="rgba(112,142,245,0.5)"/>
<circle cx="564.0" cy="555.8" r="7.7" fill="rgba(112,142,245,0.5)"/>
<circle cx="550.3" cy="566.4" r="7.7" fill="rgba(112,142,245,0.5)"/>
<circle cx="537.9" cy="569.9" r="7.7" fill="rgba(112,142,245,0.5)"/>
<circle cx="541.4" cy="575.2" r="7.7" fill="rgba(112,142,245,0.5)"/>
<circle cx="551.7" cy="572.9" r="7.7" fill="rgba(112,142,245,0.5)"/>
<circle cx="545.0" cy="592.0" r="7.7" fill="rgba(112,142,245,0.5)"/>
<circle cx="549.4" cy="611.0" r="7.7" fill="rgba(112,142,245,0.5)"/>
<circle cx="699.6" cy="543.7" r="7.7" fill="rgba(112,142,245,0.5)"/>
<circle cx="721.6" cy="538.4" r="7.7" fill="rgba(112,142,245,0.5)"/>
<circle cx="725.2" cy="547.5" r="7.7" fill="rgba(112,142,245,0.5)"/>
<circle cx="716.7" cy="552.5" r="7.7" fill="rgba(112,142,245,0.5)"/>
<circle cx="662.9" cy="552.8" r="7.7" fill="rgba(112,142,245,0.5)"/>
<circle cx="705.2" cy="569.7" r="7.7" fill="rgba(112,142,245,0.5)"/>
<circle cx="743.5" cy="572.0" r="7.7" fill="rgba(112,142,245,0.5)"/>
<circle cx="765.7" cy="566.0" r="7.7" fill="rgba(112,142,245,0.5)"/>
<circle cx="538.5" cy="650.8" r="7.7" fill="rgba(112,142,245,0.5)"/>
<circle cx="645.0" cy="582.0" r="7.7" fill="rgba(112,142,245,0.5)"/>
<circle cx="686.1" cy="616.8" r="7.7" fill="rgba(112,142,245,0.5)"/>
<circle cx="669.9" cy="621.7" r="7.7" fill="rgba(112,142,245,0.5)"/>
<circle cx="661.0" cy="631.4" r="7.7" fill="rgba(112,142,245,0.5)"/>
<circle cx="672.5" cy="640.7" r="7.7" fill="rgba(112,142,245,0.5)"/>
<circle cx="621.4" cy="626.6" r="7.7" fill="rgba(112,142,245,0.5)"/>
<circle cx="622.3" cy="647.8" r="7.7" fill="rgba(112,142,245,0.5)"/>
<circle cx="622.3" cy="660.0" r="7.7" fill="rgba(112,142,245,0.5)"/>
<circle cx="764.3" cy="600.9" r="7.7" fill="rgba(112,142,245,0.5)"/>
<circle cx="749.6" cy="628.4" r="7.7" fill="rgba(112,142,245,0.5)"/>
<circle cx="688.0" cy="595.0" r="7.7" fill="rgba(112,142,245,0.5)"/>
<circle cx="625.8" cy="294.0" r="7.7" fill="rgba(112,142,245,0.5)"/>
<circle cx="746.6" cy="361.9" r="7.7" fill="rgba(112,142,245,0.5)"/>
<rect x="420.2" y="474.3" width="14.2" height="14.2" fill="rgba(255,128,0,0.5)"/>
<rect x="359.7" y="501.9" width="14.2" height="14.2" fill="rgba(255,128,0,0.5)"/>
<rect x="359.0" y="517.8" width="14.2" height="14.2" fill="rgba(255,128,0,0.5)"/>
<rect x="335.5" y="523.1" width="14.2" height="14.2" fill="rgba(255,128,0,0.5)"/>
<rect x="430.7" y="530.7" width="14.2" height="14.2" fill="rgba(255,128,0,0.5)"/>
<rect x="361.1" y="538.9" width="14.2" height="14.2" fill="rgba(255,128,0,0.5)"/>
<rect x="322.1" y="514.4" width="14.2" height="14.2" fill="rgba(255,128,0,0.5)"/>
<rect x="332.2" y="522.9" width="14.2" height="14.2" fill="rgba(255,128,0,0.5)"/>
<rect x="275.4" y="553.7" width="14.2" height="14.2" fill="rgba(255,128,0,0.5)"/>
<rect x="298.3" y="547.9" width="14.2" height="14.2" fill="rgba(255,128,0,0.5)"/>
<rect x="307.5" y="551.4" width="14.2" height="14.2" fill="rgba(255,128,0,0.5)"/>
<rect x="285.5" y="563.9" width="14.2" height="14.2" fill="rgba(255,128,0,0.5)"/>
<rect x="277.5" y="567.8" width="14.2" height="14.2" fill="rgba(255,128,0,0.5)"/>
<rect x="254.3" y="573.4" width="14.2" height="14.2" fill="rgba(255,128,0,0.5)"/>
<rect x="214.9" y="584.5" width="14.2" height="14.2" fill="rgba(255,128,0,0.5)"/>
<rect x="224.6" y="586.3" width="14.2" height="14.2" fill="rgba(255,128,0,0.5)"/>
<rect x="268.7" y="587.7" width="14.2" height="14.2" fill="rgba(255,128,0,0.5)"/>
<rect x="301.3" y="586.3" width="14.2" height="14.2" fill="rgba(255,128,0,0.5)"/>
<rect x="306.4" y="588.9" width="14.2" height="14.2" fill="rgba(255,128,0,0.5)"/>
<rect x="351.2" y="581.9" width="14.2" height="14.2" fill="rgba(255,128,0,0.5)"/>
<rect x="350.7" y="586.3" width="14.2" height="14.2" fill="rgba(255,128,0,0.5)"/>
<rect x="357.7" y="589.9" width="14.2" height="14.2" fill="rgba(255,128,0,0.5)"/>
<rect x="362.2" y="543.1" width="14.2" height="14.2" fill="rgba(255,128,0,0.5)"/>
<rect x="369.9" y="553.7" width="14.2" height="14.2" fill="rgba(255,128,0,0.5)"/>
<rect x="365.7" y="572.2" width="14.2" height="14.2" fill="rgba(255,128,0,0.5)"/>
<rect x="232.9" y="600.2" width="14.2" height="14.2" fill="rgba(255,128,0,0.5)"/>
<rect x="253.1" y="598.1" width="14.2" height="14.2" fill="rgba(255,128,0,0.5)"/>
<rect x="250.9" y="607.6" width="14.2" height="14.2" fill="rgba(255,128,0,0.5)"/>
<rect x="209.9" y="619.1" width="14.2" height="14.2" fill="rgba(255,128,0,0.5)"/>
<rect x="267.2" y="617.0" width="14.2" height="14.2" fill="rgba(255,128,0,0.5)"/>
<rect x="274.6" y="620.9" width="14.2" height="14.2" fill="rgba(255,128,0,0.5)"/>
<rect x="283.6" y="629.3" width="14.2" height="14.2" fill="rgba(255,128,0,0.5)"/>
<rect x="314.8" y="584.4" width="14.2" height="14.2" fill="rgba(255,128,0,0.5)"/>
<rect x="358.0" y="593.7" width="14.2" height="14.2" fill="rgba(255,128,0,0.5)"/>
<rect x="339.9" y="604.3" width="14.2" height="14.2" fill="rgba(255,128,0,0.5)"/>
<rect x="299.0" y="620.5" width="14.2" height="14.2" fill="rgba(255,128,0,0.5)"/>
<rect x="302.5" y="622.6" width="14.2" height="14.2" fill="rgba(255,128,0,0.5)"/>
<rect x="302.5" y="613.4" width="14.2" height="14.2" fill="rgba(255,128,0,0.5)"/>
<rect x="337.8" y="625.8" width="14.2" height="14.2" fill="rgba(255,128,0,0.5)"/>
<rect x="334.2" y="631.1" width="14.2" height="14.2" fill="rgba(255,128,0,0.5)"/>
<rect x="356.3" y="624.0" width="14.2" height="14.2" fill="rgba(255,128,0,0.5)"/>
<rect x="362.4" y="634.6" width="14.2" height="14.2" fill="rgba(255,128,0,0.5)"/>
<rect x="237.3" y="638.1" width="14.2" height="14.2" fill="rgba(255,128,0,0.5)"/>
<rect x="261.4" y="648.7" width="14.2" height="14.2" fill="rgba(255,128,0,0.5)"/>
<rect x="254.9" y="658.8" width="14.2" height="14.2" fill="rgba(255,128,0,0.5)"/>
<rect x="260.7" y="664.9" width="14.2" height="14.2" fill="rgba(255,128,0,0.5)"/>
<rect x="223.2" y="659.6" width="14.2" height="14.2" fill="rgba(255,128,0,0.5)"/>
<rect x="287.9" y="664.0" width="14.2" height="14.2" fill="rgba(255,128,0,0.5)"/>
<rect x="288.4" y="669.0" width="14.2" height="14.2" fill="rgba(255,128,0,0.5)"/>
<rect x="273.9" y="677.8" width="14.2" height="14.2" fill="rgba(255,128,0,0.5)"/>
<rect x="283.1" y="680.8" width="14.2" height="14.2" fill="rgba(255,128,0,0.5)"/>
<rect x="324.5" y="649.9" width="14.2" height="14.2" fill="rgba(255,128,0,0.5)"/>
<rect x="331.1" y="667.8" width="14.2" height="14.2" fill="rgba(255,128,0,0.5)"/>
<rect x="316.6" y="681.3" width="14.2" height="14.2" fill="rgba(255,128,0,0.5)"/>
<rect x="303.7" y="686.1" width="14.2" height="14.2" fill="rgba(255,128,0,0.5)"/>
<rect x="279.6" y="698.4" width="14.2" height="14.2" fill="rgba(255,128,0,0.5)"/>
<rect x="259.6" y="706.4" width="14.2" height="14.2" fill="rgba(255,128,0,0.5)"/>
<rect x="288.7" y="675.4" width="14.2" height="14.2" fill="rgba(255,128,0,0.5)"/>
<rect x="333.1" y="718.1" width="14.2" height="14.2" fill="rgba(255,128,0,0.5)"/>
<rect x="312.0" y="738.1" width="14.2" height="14.2" fill="rgba(255,128,0,0.5)"/>
<rect x="409.3" y="579.1" width="14.2" height="14.2" fill="rgba(255,128,0,0.5)"/>
<rect x="424.1" y="583.1" width="14.2" height="14.2" fill="rgba(255,128,0,0.5)"/>
<rect x="456.3" y="569.9" width="14.2" height="14.2" fill="rgba(255,128,0,0.5)"/>
<rect x="443.6" y="596.4" width="14.2" height="14.2" fill="rgba(255,128,0,0.5)"/>
<rect x="486.8" y="615.4" width="14.2" height="14.2" fill="rgba(255,128,0,0.5)"/>
<rect x="369.9" y="615.4" width="14.2" height="14.2" fill="rgba(255,128,0,0.5)"/>
<rect x="379.3" y="619.3" width="14.2" height="14.2" fill="rgba(255,128,0,0.5)"/>
<rect x="391.1" y="618.4" width="14.2" height="14.2" fill="rgba(255,128,0,0.5)"/>
<rect x="365.5" y="640.8" width="14.2" height="14.2" fill="rgba(255,128,0,0.5)"/>
<rect x="377.0" y="647.1" width="14.2" height="14.2" fill="rgba(255,128,0,0.5)"/>
<rect x="393.7" y="664.9" width="14.2" height="14.2" fill="rgba(255,128,0,0.5)"/>
<rect x="408.1" y="662.9" width="14.2" height="14.2" fill="rgba(255,128,0,0.5)"/>
<rect x="454.4" y="665.9" width="14.2" height="14.2" fill="rgba(255,128,0,0.5)"/>
<rect x="362.9" y="637.3" width="14.2" height="14.2" fill="rgba(255,128,0,0.5)"/>
<rect x="416.6" y="669.0" width="14.2" height="14.2" fill="rgba(255,128,0,0.5)"/>
<rect x="414.0" y="671.7" width="14.2" height="14.2" fill="rgba(255,128,0,0.5)"/>
<rect x="414.4" y="683.1" width="14.2" height="14.2" fill="rgba(255,128,0,0.5)"/>
<rect x="377.0" y="676.1" width="14.2" height="14.2" fill="rgba(255,128,0,0.5)"/>
<rect x="394.6" y="682.3" width="14.2" height="14.2" fill="rgba(255,128,0,0.5)"/>
<rect x="394.6" y="692.0" width="14.2" height="14.2" fill="rgba(255,128,0,0.5)"/>
<rect x="433.7" y="685.3" width="14.2" height="14.2" fill="rgba(255,128,0,0.5)"/>
<rect x="438.3" y="726.3" width="14.2" height="14.2" fill="rgba(255,128,0,0.5)"/>
<rect x="445.7" y="722.5" width="14.2" height="14.2" fill="rgba(255,128,0,0.5)"/>
<rect x="578.4" y="551.7" width="14.2" height="14.2" fill="rgba(255,128,0,0.5)"/>
<path d="M316.3,446.9 L325.6,456.2 L316.3,465.5 L307.0,456.2 Z" fill="rgba(0,128,0,0.5)"/>
<path d="M314.0,457.1 L323.3,466.4 L314.0,475.7 L304.7,466.4 Z" fill="rgba(0,128,0,0.5)"/>
<path d="M315.8,460.6 L325.1,469.9 L315.8,479.2 L306.5,469.9 Z" fill="rgba(0,128,0,0.5)"/>
<path d="M276.0,498.2 L285.3,507.5 L276.0,516.8 L266.7,507.5 Z" fill="rgba(0,128,0,0.5)"/>
<path d="M291.1,497.7 L300.4,507.0 L291.1,516.3 L281.8,507.0 Z" fill="rgba(0,128,0,0.5)"/>
<path d="M366.4,439.8 L375.7,449.1 L366.4,458.4 L357.1,449.1 Z" fill="rgba(0,128,0,0.5)"/>
<path d="M375.3,433.6 L384.6,442.9 L375.3,452.2 L366.0,442.9 Z" fill="rgba(0,128,0,0.5)"/>
<path d="M379.7,437.1 L389.0,446.4 L379.7,455.7 L370.4,446.4 Z" fill="rgba(0,128,0,0.5)"/>
<path d="M354.1,453.9 L363.4,463.2 L354.1,472.5 L344.8,463.2 Z" fill="rgba(0,128,0,0.5)"/>
<path d="M357.6,450.4 L366.9,459.7 L357.6,469.0 L348.3,459.7 Z" fill="rgba(0,128,0,0.5)"/>
<path d="M412.3,461.8 L421.6,471.1 L412.3,480.4 L403.0,471.1 Z" fill="rgba(0,128,0,0.5)"/>
<path d="M433.4,455.7 L442.7,465.0 L433.4,474.3 L424.1,465.0 Z" fill="rgba(0,128,0,0.5)"/>
<path d="M442.3,441.6 L451.6,450.9 L442.3,460.2 L433.0,450.9 Z" fill="rgba(0,128,0,0.5)"/>
<path d="M458.1,455.7 L467.4,465.0 L458.1,474.3 L448.8,465.0 Z" fill="rgba(0,128,0,0.5)"/>
<path d="M450.2,463.6 L459.5,472.9 L450.2,482.2 L440.9,472.9 Z" fill="rgba(0,128,0,0.5)"/>
<path d="M497.8,435.4 L507.1,444.7 L497.8,454.0 L488.5,444.7 Z" fill="rgba(0,128,0,0.5)"/>
<path d="M387.6,475.1 L396.9,484.4 L387.6,493.7 L378.3,484.4 Z" fill="rgba(0,128,0,0.5)"/>
<path d="M399.1,481.2 L408.4,490.5 L399.1,499.8 L389.8,490.5 Z" fill="rgba(0,128,0,0.5)"/>
<path d="M430.8,486.5 L440.1,495.8 L430.8,505.1 L421.5,495.8 Z" fill="rgba(0,128,0,0.5)"/>
<path d="M458.1,479.5 L467.4,488.8 L458.1,498.1 L448.8,488.8 Z" fill="rgba(0,128,0,0.5)"/>
<path d="M497.8,485.6 L507.1,494.9 L497.8,504.2 L488.5,494.9 Z" fill="rgba(0,128,0,0.5)"/>
<path d="M513.7,492.7 L523.0,502.0 L513.7,511.3 L504.4,502.0 Z" fill="rgba(0,128,0,0.5)"/>
<path d="M426.4,498.9 L435.7,508.2 L426.4,517.5 L417.1,508.2 Z" fill="rgba(0,128,0,0.5)"/>
<path d="M457.2,500.6 L466.5,509.9 L457.2,519.2 L447.9,509.9 Z" fill="rgba(0,128,0,0.5)"/>
<path d="M476.6,497.1 L485.9,506.4 L476.6,515.7 L467.3,506.4 Z" fill="rgba(0,128,0,0.5)"/>
<path d="M478.0,498.7 L487.3,508.0 L478.0,517.3 L468.7,508.0 Z" fill="rgba(0,128,0,0.5)"/>
<path d="M414.0,514.7 L423.3,524.0 L414.0,533.3 L404.7,524.0 Z" fill="rgba(0,128,0,0.5)"/>
<path d="M345.3,505.9 L354.6,515.2 L345.3,524.5 L336.0,515.2 Z" fill="rgba(0,128,0,0.5)"/>
<path d="M353.2,514.7 L362.5,524.0 L353.2,533.3 L343.9,524.0 Z" fill="rgba(0,128,0,0.5)"/>
<path d="M377.9,519.1 L387.2,528.4 L377.9,537.7 L368.6,528.4 Z" fill="rgba(0,128,0,0.5)"/>
<path d="M391.1,527.1 L400.4,536.4 L391.1,545.7 L381.8,536.4 Z" fill="rgba(0,128,0,0.5)"/>
<path d="M375.3,532.3 L384.6,541.6 L375.3,550.9 L366.0,541.6 Z" fill="rgba(0,128,0,0.5)"/>
<path d="M454.6,522.7 L463.9,532.0 L454.6,541.3 L445.3,532.0 Z" fill="rgba(0,128,0,0.5)"/>
<path d="M511.9,532.3 L521.2,541.6 L511.9,550.9 L502.6,541.6 Z" fill="rgba(0,128,0,0.5)"/>
<path d="M564.9,428.2 L574.2,437.5 L564.9,446.8 L555.6,437.5 Z" fill="rgba(0,128,0,0.5)"/>
<path d="M409.7,265.1 L419.0,274.4 L409.7,283.7 L400.4,274.4 Z" fill="rgba(0,128,0,0.5)"/>
<path d="M225.9,519.2 L235.2,528.5 L225.9,537.8 L216.6,528.5 Z" fill="rgba(0,128,0,0.5)"/>
<path d="M371.0,541.8 L380.3,551.1 L371.0,560.4 L361.7,551.1 Z" fill="rgba(0,128,0,0.5)"/>
<path d="M370.1,562.1 L379.4,571.4 L370.1,580.7 L360.8,571.4 Z" fill="rgba(0,128,0,0.5)"/>
<path d="M337.9,555.4 L347.2,564.7 L337.9,574.0 L328.6,564.7 Z" fill="rgba(0,128,0,0.5)"/>
<path d="M327.3,581.5 L336.6,590.8 L327.3,600.1 L318.0,590.8 Z" fill="rgba(0,128,0,0.5)"/>
<path d="M329.6,585.0 L338.9,594.3 L329.6,603.6 L320.3,594.3 Z" fill="rgba(0,128,0,0.5)"/>
<path d="M310.7,604.6 L320.0,613.9 L310.7,623.2 L301.4,613.9 Z" fill="rgba(0,128,0,0.5)"/>
<path d="M337.5,620.6 L346.8,629.9 L337.5,639.2 L328.2,629.9 Z" fill="rgba(0,128,0,0.5)"/>
<path d="M404.7,545.7 L414.0,555.0 L404.7,564.3 L395.4,555.0 Z" fill="rgba(0,128,0,0.5)"/>
<path d="M412.8,555.4 L422.1,564.7 L412.8,574.0 L403.5,564.7 Z" fill="rgba(0,128,0,0.5)"/>
<path d="M431.7,554.5 L441.0,563.8 L431.7,573.1 L422.4,563.8 Z" fill="rgba(0,128,0,0.5)"/>
<path d="M434.3,563.3 L443.6,572.6 L434.3,581.9 L425.0,572.6 Z" fill="rgba(0,128,0,0.5)"/>
<path d="M436.1,571.3 L445.4,580.6 L436.1,589.9 L426.8,580.6 Z" fill="rgba(0,128,0,0.5)"/>
<path d="M464.7,573.0 L474.0,582.3 L464.7,591.6 L455.4,582.3 Z" fill="rgba(0,128,0,0.5)"/>
<path d="M485.8,581.5 L495.1,590.8 L485.8,600.1 L476.5,590.8 Z" fill="rgba(0,128,0,0.5)"/>
<path d="M494.3,597.7 L503.6,607.0 L494.3,616.3 L485.0,607.0 Z" fill="rgba(0,128,0,0.5)"/>
<path d="M481.1,590.7 L490.4,600.0 L481.1,609.3 L471.8,600.0 Z" fill="rgba(0,128,0,0.5)"/>
<path d="M474.0,595.7 L483.3,605.0 L474.0,614.3 L464.7,605.0 Z" fill="rgba(0,128,0,0.5)"/>
<path d="M472.0,599.7 L481.3,609.0 L472.0,618.3 L462.7,609.0 Z" fill="rgba(0,128,0,0.5)"/>
<path d="M393.8,602.1 L403.1,611.4 L393.8,620.7 L384.5,611.4 Z" fill="rgba(0,128,0,0.5)"/>
<path d="M443.2,608.3 L452.5,617.6 L443.2,626.9 L433.9,617.6 Z" fill="rgba(0,128,0,0.5)"/>
<path d="M389.4,726.4 L398.7,735.7 L389.4,745.0 L380.1,735.7 Z" fill="rgba(0,128,0,0.5)"/>
<path d="M525.0,505.3 L534.3,514.6 L525.0,523.9 L515.7,514.6 Z" fill="rgba(0,128,0,0.5)"/>
<path d="M546.7,488.6 L556.0,497.9 L546.7,507.2 L537.4,497.9 Z" fill="rgba(0,128,0,0.5)"/>
<path d="M568.8,572.6 L578.1,581.9 L568.8,591.2 L559.5,581.9 Z" fill="rgba(0,128,0,0.5)"/>
<path d="M575.8,587.9 L585.1,597.2 L575.8,606.5 L566.5,597.2 Z" fill="rgba(0,128,0,0.5)"/>
<path d="M565.5,647.7 L574.8,657.0 L565.5,666.3 L556.2,657.0 Z" fill="rgba(0,128,0,0.5)"/>
<path d="M285.8,233.2 L294.2,239.3 L291.0,249.1 L280.6,249.1 L277.4,239.3 Z" fill="rgba(128,128,128,0.5)"/>
<path d="M327.0,223.7 L335.4,229.8 L332.2,239.6 L321.8,239.6 L318.6,229.8 Z" fill="rgba(128,128,128,0.5)"/>
<path d="M362.7,215.9 L371.1,222.0 L367.9,231.8 L357.5,231.8 L354.3,222.0 Z" fill="rgba(128,128,128,0.5)"/>
<path d="M322.7,243.0 L331.1,249.1 L327.9,258.9 L317.5,258.9 L314.3,249.1 Z" fill="rgba(128,128,128,0.5)"/>
<path d="M363.9,259.6 L372.3,265.7 L369.1,275.5 L358.7,275.5 L355.5,265.7 Z" fill="rgba(128,128,128,0.5)"/>
<path d="M365.3,268.4 L373.7,274.5 L370.5,284.3 L360.1,284.3 L356.9,274.5 Z" fill="rgba(128,128,128,0.5)"/>
<path d="M305.9,284.7 L314.3,290.8 L311.1,300.6 L300.7,300.6 L297.5,290.8 Z" fill="rgba(128,128,128,0.5)"/>
<path d="M349.4,286.7 L357.8,292.8 L354.6,302.6 L344.2,302.6 L341.0,292.8 Z" fill="rgba(128,128,128,0.5)"/>
<path d="M282.7,298.4 L291.1,304.5 L287.9,314.3 L277.5,314.3 L274.3,304.5 Z" fill="rgba(128,128,128,0.5)"/>
<path d="M369.0,301.2 L377.4,307.3 L374.2,317.1 L363.8,317.1 L360.6,307.3 Z" fill="rgba(128,128,128,0.5)"/>
<path d="M310.4,312.9 L318.8,319.0 L315.6,328.8 L305.2,328.8 L302.0,319.0 Z" fill="rgba(128,128,128,0.5)"/>
<path d="M328.4,321.8 L336.8,327.9 L333.6,337.7 L323.2,337.7 L320.0,327.9 Z" fill="rgba(128,128,128,0.5)"/>
<path d="M328.4,330.8 L336.8,336.9 L333.6,346.7 L323.2,346.7 L320.0,336.9 Z" fill="rgba(128,128,128,0.5)"/>
<path d="M342.4,332.4 L350.8,338.5 L347.6,348.3 L337.2,348.3 L334.0,338.5 Z" fill="rgba(128,128,128,0.5)"/>
<path d="M309.8,336.4 L318.2,342.5 L315.0,352.3 L304.6,352.3 L301.4,342.5 Z" fill="rgba(128,128,128,0.5)"/>
<path d="M347.0,348.1 L355.4,354.2 L352.2,364.0 L341.8,364.0 L338.6,354.2 Z" fill="rgba(128,128,128,0.5)"/>
<path d="M356.9,357.7 L365.3,363.8 L362.1,373.6 L351.7,373.6 L348.5,363.8 Z" fill="rgba(128,128,128,0.5)"/>
<path d="M494.0,213.1 L502.4,219.2 L499.2,229.0 L488.8,229.0 L485.6,219.2 Z" fill="rgba(128,128,128,0.5)"/>
<path d="M399.5,234.6 L407.9,240.7 L404.7,250.5 L394.3,250.5 L391.1,240.7 Z" fill="rgba(128,128,128,0.5)"/>
<path d="M428.2,235.1 L436.6,241.2 L433.4,251.0 L423.0,251.0 L419.8,241.2 Z" fill="rgba(128,128,128,0.5)"/>
<path d="M439.7,252.7 L448.1,258.8 L444.9,268.6 L434.5,268.6 L431.3,258.8 Z" fill="rgba(128,128,128,0.5)"/>
<path d="M439.7,252.7 L448.1,258.8 L444.9,268.6 L434.5,268.6 L431.3,258.8 Z" fill="rgba(128,128,128,0.5)"/>
<path d="M383.6,259.4 L392.0,265.5 L388.8,275.3 L378.4,275.3 L375.2,265.5 Z" fill="rgba(128,128,128,0.5)"/>
<path d="M388.0,271.8 L396.4,277.9 L393.2,287.7 L382.8,287.7 L379.6,277.9 Z" fill="rgba(128,128,128,0.5)"/>
<path d="M432.8,268.2 L441.2,274.3 L438.0,284.1 L427.6,284.1 L424.4,274.3 Z" fill="rgba(128,128,128,0.5)"/>
<path d="M413.7,265.9 L422.1,272.0 L418.9,281.8 L408.5,281.8 L405.3,272.0 Z" fill="rgba(128,128,128,0.5)"/>
<path d="M421.3,273.5 L429.7,279.6 L426.5,289.4 L416.1,289.4 L412.9,279.6 Z" fill="rgba(128,128,128,0.5)"/>
<path d="M482.4,294.2 L490.8,300.3 L487.6,310.1 L477.2,310.1 L474.0,300.3 Z" fill="rgba(128,128,128,0.5)"/>
<path d="M380.6,292.9 L389.0,299.0 L385.8,308.8 L375.4,308.8 L372.2,299.0 Z" fill="rgba(128,128,128,0.5)"/>
<path d="M388.7,299.2 L397.1,305.3 L393.9,315.1 L383.5,315.1 L380.3,305.3 Z" fill="rgba(128,128,128,0.5)"/>
<path d="M395.3,300.4 L403.7,306.5 L400.5,316.3 L390.1,316.3 L386.9,306.5 Z" fill="rgba(128,128,128,0.5)"/>
<path d="M411.0,306.5 L419.4,312.6 L416.2,322.4 L405.8,322.4 L402.6,312.6 Z" fill="rgba(128,128,128,0.5)"/>
<path d="M377.9,326.0 L386.3,332.1 L383.1,341.9 L372.7,341.9 L369.5,332.1 Z" fill="rgba(128,128,128,0.5)"/>
<path d="M391.7,323.0 L400.1,329.1 L396.9,338.9 L386.5,338.9 L383.3,329.1 Z" fill="rgba(128,128,128,0.5)"/>
<path d="M417.3,330.8 L425.7,336.9 L422.5,346.7 L412.1,346.7 L408.9,336.9 Z" fill="rgba(128,128,128,0.5)"/>
<path d="M402.3,336.6 L410.7,342.7 L407.5,352.5 L397.1,352.5 L393.9,342.7 Z" fill="rgba(128,128,128,0.5)"/>
<path d="M378.8,344.0 L387.2,350.1 L384.0,359.9 L373.6,359.9 L370.4,350.1 Z" fill="rgba(128,128,128,0.5)"/>
<path d="M373.2,353.7 L381.6,359.8 L378.4,369.6 L368.0,369.6 L364.8,359.8 Z" fill="rgba(128,128,128,0.5)"/>
<path d="M386.4,356.5 L394.8,362.6 L391.6,372.4 L381.2,372.4 L378.0,362.6 Z" fill="rgba(128,128,128,0.5)"/>
<path d="M357.3,373.2 L365.7,379.3 L362.5,389.1 L352.1,389.1 L348.9,379.3 Z" fill="rgba(128,128,128,0.5)"/>
<path d="M416.7,364.2 L425.1,370.3 L421.9,380.1 L411.5,380.1 L408.3,370.3 Z" fill="rgba(128,128,128,0.5)"/>
<path d="M489.4,363.0 L497.8,369.1 L494.6,378.9 L484.2,378.9 L481.0,369.1 Z" fill="rgba(128,128,128,0.5)"/>
<path d="M380.8,387.7 L389.2,393.8 L386.0,403.6 L375.6,403.6 L372.4,393.8 Z" fill="rgba(128,128,128,0.5)"/>
<path d="M357.3,409.4 L365.7,415.5 L362.5,425.3 L352.1,425.3 L348.9,415.5 Z" fill="rgba(128,128,128,0.5)"/>
<path d="M336.0,406.2 L344.4,412.3 L341.2,422.1 L330.8,422.1 L327.6,412.3 Z" fill="rgba(128,128,128,0.5)"/>
<path d="M335.0,403.2 L343.4,409.3 L340.2,419.1 L329.8,419.1 L326.6,409.3 Z" fill="rgba(128,128,128,0.5)"/>
<path d="M438.0,444.2 L446.4,450.3 L443.2,460.1 L432.8,460.1 L429.6,450.3 Z" fill="rgba(128,128,128,0.5)"/>
<path d="M393.4,434.8 L401.8,440.9 L398.6,450.7 L388.2,450.7 L385.0,440.9 Z" fill="rgba(128,128,128,0.5)"/>
<path d="M384.1,496.2 L392.5,502.3 L389.3,512.1 L378.9,512.1 L375.7,502.3 Z" fill="rgba(128,128,128,0.5)"/>
<path d="M388.0,491.2 L396.4,497.3 L393.2,507.1 L382.8,507.1 L379.6,497.3 Z" fill="rgba(128,128,128,0.5)"/>
<ellipse cx="639.0" cy="535.8" rx="111.7" ry="126.8" transform="rotate(7.2 639.0 535.8)" fill="rgba(142,165,248,0.3)"/>
<ellipse cx="343.4" cy="629.1" rx="143.4" ry="112.9" transform="rotate(-3.9 343.4 629.1)" fill="rgba(252,122,2,0.3)"/>
<ellipse cx="418.0" cy="526.9" rx="156.5" ry="136.7" transform="rotate(22.4 418.0 526.9)" fill="rgba(72,165,118,0.3)"/>
<ellipse cx="380.9" cy="324.2" rx="97.7" ry="135.9" transform="rotate(0.7 380.9 324.2)" fill="rgba(188,188,188,0.3)"/>
<path d="M209.6,276.2 L219.6,292.7 L199.6,292.7 Z" fill="#ff0000"/>
<path d="M229.0,318.4 L239.0,334.9 L219.0,334.9 Z" fill="#ff0000"/>
<path d="M392.9,368.9 L402.9,385.4 L382.9,385.4 Z" fill="#ff0000"/>
<path d="M396.0,376.1 L406.0,392.6 L386.0,392.6 Z" fill="#ff0000"/>
<path d="M417.7,384.0 L427.7,400.5 L407.7,400.5 Z" fill="#ff0000"/>
<path d="M443.0,375.6 L453.0,392.1 L433.0,392.1 Z" fill="#ff0000"/>
<path d="M508.9,393.2 L518.9,409.7 L498.9,409.7 Z" fill="#ff0000"/>
<path d="M336.9,410.2 L346.9,426.7 L326.9,426.7 Z" fill="#ff0000"/>
<path d="M198.3,444.1 L208.3,460.6 L188.3,460.6 Z" fill="#ff0000"/>
<path d="M470.5,518.1 L480.5,534.6 L460.5,534.6 Z" fill="#ff0000"/>
<path d="M547.3,450.0 L557.3,466.5 L537.3,466.5 Z" fill="#ff0000"/>
<circle cx="223.5" cy="357.8" r="8.5" fill="#0000ff"/>
<circle cx="241.4" cy="361.2" r="8.5" fill="#0000ff"/>
<circle cx="262.0" cy="364.3" r="8.5" fill="#0000ff"/>
<circle cx="445.9" cy="374.1" r="8.5" fill="#0000ff"/>
<circle cx="271.3" cy="404.7" r="8.5" fill="#0000ff"/>
<circle cx="324.7" cy="411.7" r="8.5" fill="#0000ff"/>
<circle cx="445.0" cy="432.8" r="8.5" fill="#0000ff"/>
<circle cx="362.0" cy="500.2" r="8.5" fill="#0000ff"/>
<rect x="446.3" y="287.4" width="15" height="15" fill="#f5dc23"/>
<rect x="400.9" y="397.7" width="15" height="15" fill="#f5dc23"/>
<rect x="431.3" y="427.4" width="15" height="15" fill="#f5dc23"/>
<path d="M341.9,446.9 H359.9 M350.9,437.9 V455.9" stroke="#000" stroke-width="2.8"/>
<path d="M181.2,540.2 H199.2 M190.2,531.2 V549.2" stroke="#000" stroke-width="2.8"/>
<text x="217.7" y="292.7" font-family="Liberation Serif, serif" font-weight="bold" font-size="15.5" letter-spacing="-0.4">Sc09</text>
<text x="237.2" y="334.9" font-family="Liberation Serif, serif" font-weight="bold" font-size="15.5" letter-spacing="-0.4">Sc11</text>
<text x="395.8" y="371.7" font-family="Liberation Serif, serif" font-weight="bold" font-size="15.5" letter-spacing="-0.4">Sc05</text>
<text x="363.7" y="397.9" font-family="Liberation Serif, serif" font-weight="bold" font-size="15.5" letter-spacing="-0.4">Sc06</text>
<text x="425.8" y="405.3" font-family="Liberation Serif, serif" font-weight="bold" font-size="15.5" letter-spacing="-0.4">Sc01</text>
<text x="450.8" y="392.1" font-family="Liberation Serif, serif" font-weight="bold" font-size="15.5" letter-spacing="-0.4">Sc04</text>
<text x="516.9" y="409.7" font-family="Liberation Serif, serif" font-weight="bold" font-size="15.5" letter-spacing="-0.4">Sc02</text>
<text x="345.2" y="426.7" font-family="Liberation Serif, serif" font-weight="bold" font-size="15.5" letter-spacing="-0.4">Sc03</text>
<text x="206.5" y="460.6" font-family="Liberation Serif, serif" font-weight="bold" font-size="15.5" letter-spacing="-0.4">Sc10</text>
<text x="457.5" y="546.1" font-family="Liberation Serif, serif" font-weight="bold" font-size="15.5" letter-spacing="-0.4">Sc07</text>
<text x="555.6" y="466.3" font-family="Liberation Serif, serif" font-weight="bold" font-size="15.5" letter-spacing="-0.4">Sc08</text>
<rect x="83.5" y="140" width="770.9" height="640.2" fill="none" stroke="#000" stroke-width="2.3"/>
<line x1="83.5" y1="780.2" x2="83.5" y2="791.2" stroke="#000" stroke-width="2.3"/>
<text x="83.5" y="821" text-anchor="middle" font-family="Liberation Serif, serif" font-size="25.5">-6</text>
<line x1="147.7" y1="780.2" x2="147.7" y2="786.2" stroke="#000" stroke-width="2.3"/>
<line x1="211.9" y1="780.2" x2="211.9" y2="791.2" stroke="#000" stroke-width="2.3"/>
<text x="211.9" y="821" text-anchor="middle" font-family="Liberation Serif, serif" font-size="25.5">-4</text>
<line x1="276.1" y1="780.2" x2="276.1" y2="786.2" stroke="#000" stroke-width="2.3"/>
<line x1="340.3" y1="780.2" x2="340.3" y2="791.2" stroke="#000" stroke-width="2.3"/>
<text x="340.3" y="821" text-anchor="middle" font-family="Liberation Serif, serif" font-size="25.5">-2</text>
<line x1="404.5" y1="780.2" x2="404.5" y2="786.2" stroke="#000" stroke-width="2.3"/>
<line x1="468.7" y1="780.2" x2="468.7" y2="791.2" stroke="#000" stroke-width="2.3"/>
<text x="468.7" y="821" text-anchor="middle" font-family="Liberation Serif, serif" font-size="25.5">0</text>
<line x1="532.9" y1="780.2" x2="532.9" y2="786.2" stroke="#000" stroke-width="2.3"/>
<line x1="597.1" y1="780.2" x2="597.1" y2="791.2" stroke="#000" stroke-width="2.3"/>
<text x="597.1" y="821" text-anchor="middle" font-family="Liberation Serif, serif" font-size="25.5">2</text>
<line x1="661.3" y1="780.2" x2="661.3" y2="786.2" stroke="#000" stroke-width="2.3"/>
<line x1="725.5" y1="780.2" x2="725.5" y2="791.2" stroke="#000" stroke-width="2.3"/>
<text x="725.5" y="821" text-anchor="middle" font-family="Liberation Serif, serif" font-size="25.5">4</text>
<line x1="789.7" y1="780.2" x2="789.7" y2="786.2" stroke="#000" stroke-width="2.3"/>
<line x1="853.9" y1="780.2" x2="853.9" y2="791.2" stroke="#000" stroke-width="2.3"/>
<text x="853.9" y="821" text-anchor="middle" font-family="Liberation Serif, serif" font-size="25.5">6</text>
<line x1="71.5" y1="780.2" x2="83.5" y2="780.2" stroke="#000" stroke-width="2.3"/>
<text x="62.5" y="787.0" text-anchor="end" font-family="Liberation Serif, serif" font-size="25.5">-4</text>
<line x1="77.0" y1="716.2" x2="83.5" y2="716.2" stroke="#000" stroke-width="2.3"/>
<line x1="71.5" y1="652.2" x2="83.5" y2="652.2" stroke="#000" stroke-width="2.3"/>
<text x="62.5" y="659.0" text-anchor="end" font-family="Liberation Serif, serif" font-size="25.5">-2</text>
<line x1="77.0" y1="588.1" x2="83.5" y2="588.1" stroke="#000" stroke-width="2.3"/>
<line x1="71.5" y1="524.1" x2="83.5" y2="524.1" stroke="#000" stroke-width="2.3"/>
<text x="62.5" y="530.9" text-anchor="end" font-family="Liberation Serif, serif" font-size="25.5">0</text>
<line x1="77.0" y1="460.1" x2="83.5" y2="460.1" stroke="#000" stroke-width="2.3"/>
<line x1="71.5" y1="396.1" x2="83.5" y2="396.1" stroke="#000" stroke-width="2.3"/>
<text x="62.5" y="402.9" text-anchor="end" font-family="Liberation Serif, serif" font-size="25.5">2</text>
<line x1="77.0" y1="332.1" x2="83.5" y2="332.1" stroke="#000" stroke-width="2.3"/>
<line x1="71.5" y1="268.0" x2="83.5" y2="268.0" stroke="#000" stroke-width="2.3"/>
<text x="62.5" y="274.8" text-anchor="end" font-family="Liberation Serif, serif" font-size="25.5">4</text>
<line x1="77.0" y1="204.0" x2="83.5" y2="204.0" stroke="#000" stroke-width="2.3"/>
<line x1="71.5" y1="140.0" x2="83.5" y2="140.0" stroke="#000" stroke-width="2.3"/>
<text x="62.5" y="146.8" text-anchor="end" font-family="Liberation Serif, serif" font-size="25.5">6</text>
<text x="467" y="871.3" text-anchor="middle" font-family="Liberation Serif, serif" font-size="32.2">Function 1</text>
<text transform="translate(28.3,460.1) rotate(-90)" x="0" y="0" text-anchor="middle" font-family="Liberation Serif, serif" font-size="32.2">Function 2</text>
<circle cx="725.4" cy="149.9" r="7.8" fill="rgba(112,142,245,0.5)"/>
<text x="754" y="156.7" font-family="Liberation Serif, serif" font-size="20.6">SA</text>
<rect x="718.4" y="168.2" width="14" height="14" fill="rgba(255,128,0,0.5)"/>
<text x="754" y="182.0" font-family="Liberation Serif, serif" font-size="20.6">SC</text>
<path d="M725.4,191.1 L734.8,200.5 L725.4,209.9 L716.0,200.5 Z" fill="rgba(0,128,0,0.5)"/>
<text x="754" y="207.3" font-family="Liberation Serif, serif" font-size="20.6">CAOB</text>
<path d="M725.4,217.8 L733.6,223.7 L730.5,233.4 L720.3,233.4 L717.2,223.7 Z" fill="rgba(128,128,128,0.5)"/>
<text x="754" y="232.2" font-family="Liberation Serif, serif" font-size="20.6">YSO</text>
<path d="M725.4,240.20000000000002 L735.4,257.0 L715.4,257.0 Z" fill="#ff0000"/>
<text x="754" y="257.6" font-family="Liberation Serif, serif" font-size="20.6">Sanxingdui</text>
<circle cx="725.4" cy="276.4" r="8.6" fill="#0000ff"/>
<text x="754" y="283.2" font-family="Liberation Serif, serif" font-size="20.6">Mogou</text>
<rect x="717.8" y="294.2" width="15.2" height="15.2" fill="#f5dc23"/>
<text x="754" y="308.6" font-family="Liberation Serif, serif" font-size="20.6">Xingong</text>
<path d="M718.0,327.3 H732.8 M725.4,319.90000000000003 V334.7" stroke="#000" stroke-width="2.5"/>
<text x="754" y="334.1" font-family="Liberation Serif, serif" font-size="20.6">Zhaigou</text>
</svg></body></html>
